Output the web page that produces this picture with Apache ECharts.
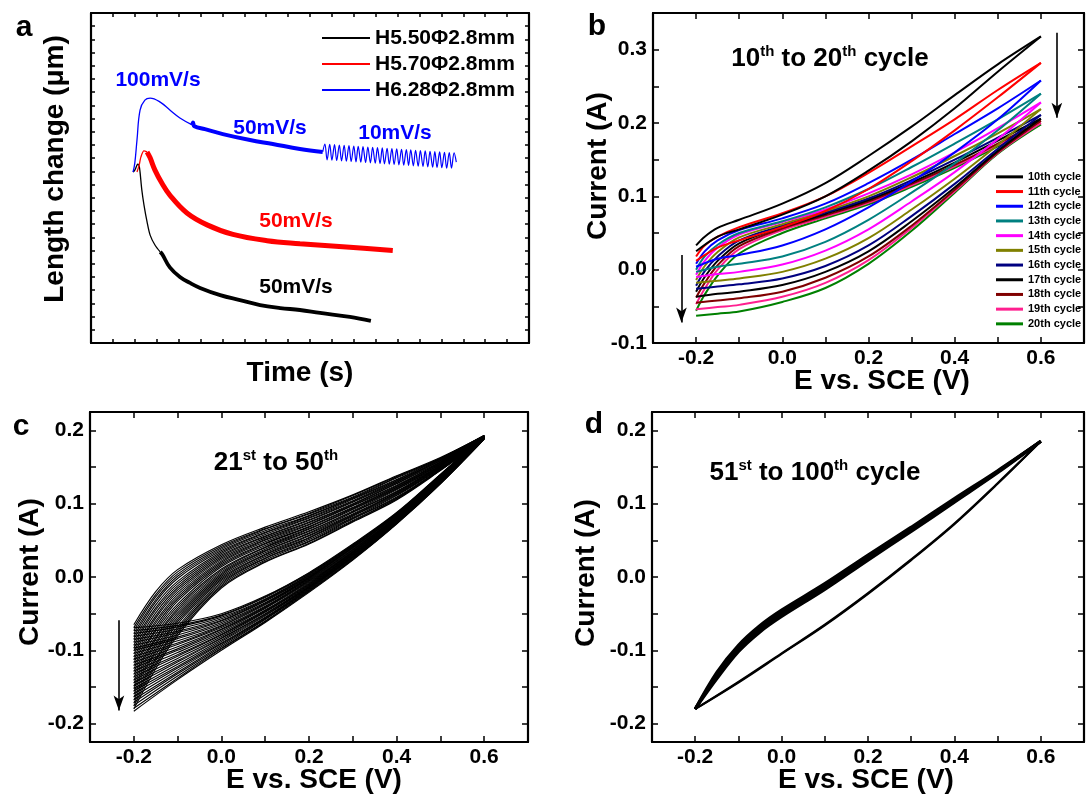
<!DOCTYPE html>
<html><head><meta charset="utf-8">
<script src="https://cdn.jsdelivr.net/npm/echarts@6/dist/echarts.min.js"></script>
<style>html,body{margin:0;padding:0;background:#fff}#c{width:1087px;height:798px}</style>
</head><body><div id="c"></div>
<script>
// ---------------- Panel a data (arbitrary units, axes unlabeled) ----------------
const aNames = ['H5.50\u03A62.8mm', 'H5.70\u03A62.8mm', 'H6.28\u03A62.8mm'];
const aBlackThin = [[9.6,51.8],[10.0,52.4],[10.5,53.9],[10.7,54.2],[11.0,53.6],[11.2,51.8],[11.6,46.4],[12.1,41.8],[12.8,36.7],[13.5,32.7],[14.6,29.7],[15.8,27.6]];
const aBlackThick = [[15.8,27.6],[16.3,26.8],[18.0,22.9],[20.3,20.0],[22.6,18.2],[24.9,16.7],[29.5,14.5],[34.0,13.0],[38.6,11.5],[43.2,10.6],[47.7,10.0],[52.3,9.1],[59.1,7.9],[63.9,6.7]];
const aRedThin = [[10.5,51.8],[11.0,53.9],[11.4,56.4],[12.1,58.2],[12.8,57.9]];
const aRedThick = [[12.8,57.9],[13.5,56.1],[14.6,52.4],[16.2,48.4],[18.0,44.8],[21.9,39.4],[26.5,35.8],[32.4,32.9],[40.2,31.0],[47.7,30.1],[59.1,29.0],[68.9,28.0]];
const aBlueThin = [[9.6,51.8],[10.0,54.5],[10.5,61.5],[11.2,70.6],[12.3,73.6],[13.5,74.2],[15.8,73.0],[18.0,70.6],[20.3,68.2],[23.1,66.1]];
const aBlueThick = [[23.1,66.1],[23.3,66.8],[23.6,65.7],[26.0,64.8],[30.1,63.3],[36.3,61.5],[41.5,60.3],[47.7,58.8],[52.9,57.9]];
const aBlueOsc = [[52.9,57.9],[53.4,60.3],[53.9,55.5],[54.5,60.2],[55.0,55.4],[55.6,60.1],[56.1,55.3],[56.7,60.0],[57.2,55.2],[57.8,59.9],[58.3,55.1],[58.9,59.8],[59.4,55.0],[60.0,59.7],[60.5,54.9],[61.0,59.6],[61.6,54.8],[62.1,59.5],[62.7,54.7],[63.2,59.4],[63.8,54.6],[64.3,59.3],[64.9,54.5],[65.4,59.2],[66.0,54.4],[66.5,59.1],[67.0,54.3],[67.6,59.0],[68.1,54.2],[68.7,58.9],[69.2,54.1],[69.8,58.8],[70.3,54.0],[70.9,58.7],[71.4,53.9],[72.0,58.6],[72.5,53.8],[73.0,58.5],[73.6,53.7],[74.1,58.4],[74.7,53.6],[75.2,58.3],[75.8,53.5],[76.3,58.2],[76.9,53.4],[77.4,58.1],[78.0,53.3],[78.5,58.0],[79.0,53.2],[79.6,57.9],[80.1,53.1],[80.7,57.8],[81.2,53.0],[81.8,57.7],[82.3,53.0],[82.9,57.6],[83.4,54.8]];

// ---------------- Panel b data (E in V, current in A) ----------------
const bNames = ['10th cycle','11th cycle','12th cycle','13th cycle','14th cycle','15th cycle','16th cycle','17th cycle','18th cycle','19th cycle','20th cycle'];
const bColors = ['#000000','#ff0000','#0000ff','#008080','#ff00ff','#808000','#000080','#000000','#800000','#ff1f8f','#008000'];
const bUpX = [-0.2,-0.18,-0.15,-0.1,0,0.1,0.2,0.3,0.4,0.5,0.6];
const bUpper = [
 [0.033,0.045,0.057,0.068,0.090,0.118,0.155,0.195,0.238,0.280,0.318],
 [0.018,0.033,0.045,0.058,0.077,0.100,0.132,0.168,0.205,0.245,0.282],
 [0.008,0.025,0.040,0.054,0.070,0.090,0.118,0.150,0.185,0.220,0.258],
 [0.000,0.018,0.034,0.050,0.066,0.085,0.110,0.140,0.172,0.205,0.240],
 [-0.007,0.012,0.030,0.048,0.065,0.082,0.104,0.130,0.160,0.193,0.228],
 [-0.014,0.005,0.024,0.044,0.062,0.080,0.100,0.126,0.155,0.186,0.219],
 [-0.022,-0.002,0.018,0.040,0.060,0.078,0.097,0.122,0.150,0.180,0.211],
 [-0.030,-0.010,0.012,0.036,0.058,0.076,0.095,0.119,0.146,0.176,0.206],
 [-0.038,-0.018,0.006,0.032,0.056,0.074,0.093,0.117,0.143,0.172,0.203],
 [-0.047,-0.026,0.000,0.028,0.054,0.072,0.091,0.115,0.141,0.170,0.200],
 [-0.056,-0.034,-0.008,0.022,0.050,0.070,0.089,0.113,0.139,0.168,0.198]
];
const bDnX = [0.6,0.5,0.4,0.3,0.2,0.1,0,-0.1,-0.15,-0.2];
const bLower = [
 [0.318,0.270,0.220,0.175,0.135,0.100,0.075,0.055,0.045,0.025],
 [0.282,0.235,0.190,0.148,0.110,0.080,0.058,0.040,0.030,0.012],
 [0.258,0.205,0.160,0.120,0.085,0.055,0.033,0.020,0.015,0.004],
 [0.240,0.190,0.145,0.105,0.068,0.038,0.018,0.008,0.004,-0.003],
 [0.228,0.178,0.133,0.093,0.055,0.026,0.007,-0.003,-0.006,-0.010],
 [0.219,0.170,0.124,0.082,0.043,0.015,-0.003,-0.012,-0.015,-0.018],
 [0.211,0.165,0.117,0.073,0.033,0.005,-0.012,-0.020,-0.023,-0.026],
 [0.206,0.162,0.112,0.066,0.025,-0.003,-0.021,-0.030,-0.033,-0.037],
 [0.203,0.160,0.109,0.060,0.018,-0.011,-0.030,-0.039,-0.042,-0.045],
 [0.200,0.159,0.107,0.057,0.013,-0.018,-0.037,-0.048,-0.051,-0.054],
 [0.198,0.158,0.105,0.053,0.008,-0.025,-0.044,-0.057,-0.060,-0.063]
];
const bArrowLeft = [[-0.234,0.020],[-0.234,-0.072]];
const bArrowRight = [[0.637,0.323],[0.637,0.207]];

// ---------------- Panel c data: cycles 21..50, one value per cycle at each E ----------------
const cUpX = [-0.2,-0.15,-0.1,0,0.1,0.2,0.3,0.4,0.5,0.6];
const cUpAtM020 = [-0.065,-0.069,-0.073,-0.077,-0.081,-0.085,-0.089,-0.093,-0.097,-0.101,-0.105,-0.109,-0.113,-0.117,-0.121,-0.125,-0.129,-0.133,-0.137,-0.141,-0.145,-0.149,-0.152,-0.156,-0.160,-0.164,-0.168,-0.172,-0.176,-0.180];
const cUpAtM015 = [-0.020,-0.024,-0.027,-0.031,-0.034,-0.038,-0.042,-0.045,-0.049,-0.053,-0.056,-0.060,-0.063,-0.067,-0.071,-0.074,-0.078,-0.082,-0.085,-0.089,-0.092,-0.096,-0.100,-0.103,-0.107,-0.111,-0.114,-0.118,-0.121,-0.125];
const cUpAtM010 = [0.010,0.007,0.004,0.001,-0.002,-0.006,-0.009,-0.012,-0.015,-0.018,-0.021,-0.024,-0.027,-0.030,-0.033,-0.037,-0.040,-0.043,-0.046,-0.049,-0.052,-0.055,-0.058,-0.061,-0.064,-0.068,-0.071,-0.074,-0.077,-0.080];
const cUpAt000 = [0.044,0.042,0.040,0.038,0.036,0.034,0.032,0.030,0.028,0.026,0.024,0.022,0.020,0.018,0.016,0.014,0.011,0.009,0.007,0.005,0.003,0.001,-0.001,-0.003,-0.005,-0.007,-0.009,-0.011,-0.013,-0.015];
const cUpAt010 = [0.068,0.066,0.065,0.063,0.061,0.060,0.058,0.056,0.055,0.053,0.051,0.050,0.048,0.046,0.045,0.043,0.041,0.040,0.038,0.036,0.035,0.033,0.031,0.030,0.028,0.026,0.025,0.023,0.021,0.020];
const cUpAt020 = [0.089,0.087,0.086,0.084,0.083,0.081,0.080,0.078,0.077,0.075,0.074,0.072,0.071,0.069,0.068,0.066,0.065,0.063,0.062,0.060,0.059,0.057,0.056,0.054,0.053,0.051,0.049,0.048,0.046,0.045];
const cUpAt030 = [0.112,0.111,0.109,0.108,0.107,0.106,0.104,0.103,0.102,0.100,0.099,0.098,0.097,0.095,0.094,0.093,0.092,0.090,0.089,0.088,0.086,0.085,0.084,0.083,0.081,0.080,0.079,0.077,0.076,0.075];
const cUpAt040 = [0.138,0.137,0.136,0.135,0.133,0.132,0.131,0.130,0.129,0.128,0.127,0.125,0.124,0.123,0.122,0.121,0.120,0.119,0.117,0.116,0.115,0.114,0.113,0.112,0.111,0.109,0.108,0.107,0.106,0.105];
const cUpAt050 = [0.163,0.162,0.162,0.161,0.161,0.160,0.159,0.159,0.158,0.157,0.157,0.156,0.156,0.155,0.154,0.154,0.153,0.152,0.152,0.151,0.151,0.150,0.149,0.149,0.148,0.147,0.147,0.146,0.146,0.145];
const cUpAt060 = [0.193,0.193,0.193,0.193,0.192,0.192,0.192,0.192,0.192,0.191,0.191,0.191,0.191,0.191,0.191,0.190,0.190,0.190,0.190,0.190,0.190,0.189,0.189,0.189,0.189,0.189,0.189,0.188,0.188,0.188];
const cDnX = [0.6,0.5,0.4,0.3,0.2,0.1,0,-0.1,-0.2];
const cDnAt060 = cUpAt060;
const cDnAt050 = [0.140,0.140,0.139,0.139,0.138,0.138,0.137,0.137,0.136,0.136,0.135,0.135,0.135,0.134,0.134,0.133,0.133,0.132,0.132,0.131,0.131,0.130,0.130,0.130,0.129,0.129,0.128,0.128,0.127,0.127];
const cDnAt040 = [0.088,0.087,0.087,0.086,0.086,0.085,0.085,0.084,0.084,0.083,0.082,0.082,0.081,0.081,0.080,0.080,0.079,0.079,0.078,0.078,0.077,0.076,0.076,0.075,0.075,0.074,0.074,0.073,0.073,0.072];
const cDnAt030 = [0.045,0.044,0.043,0.043,0.042,0.041,0.040,0.040,0.039,0.038,0.037,0.037,0.036,0.035,0.034,0.034,0.033,0.032,0.031,0.031,0.030,0.029,0.028,0.027,0.027,0.026,0.025,0.024,0.024,0.023];
const cDnAt020 = [0.006,0.005,0.004,0.003,0.002,0.001,0.000,-0.001,-0.001,-0.002,-0.003,-0.004,-0.005,-0.006,-0.007,-0.008,-0.009,-0.010,-0.011,-0.012,-0.013,-0.014,-0.014,-0.015,-0.016,-0.017,-0.018,-0.019,-0.020,-0.021];
const cDnAt010 = [-0.026,-0.027,-0.028,-0.030,-0.031,-0.032,-0.033,-0.035,-0.036,-0.037,-0.038,-0.040,-0.041,-0.042,-0.043,-0.045,-0.046,-0.047,-0.048,-0.050,-0.051,-0.052,-0.053,-0.055,-0.056,-0.057,-0.058,-0.060,-0.061,-0.062];
const cDnAt000 = [-0.050,-0.052,-0.053,-0.055,-0.057,-0.059,-0.060,-0.062,-0.064,-0.066,-0.067,-0.069,-0.071,-0.072,-0.074,-0.076,-0.078,-0.079,-0.081,-0.083,-0.084,-0.086,-0.088,-0.090,-0.091,-0.093,-0.095,-0.097,-0.098,-0.100];
const cDnAtM010 = [-0.063,-0.066,-0.068,-0.071,-0.074,-0.076,-0.079,-0.082,-0.084,-0.087,-0.090,-0.092,-0.095,-0.098,-0.100,-0.103,-0.106,-0.108,-0.111,-0.114,-0.116,-0.119,-0.122,-0.124,-0.127,-0.130,-0.132,-0.135,-0.138,-0.140];
const cDnAtM020 = [-0.069,-0.073,-0.077,-0.081,-0.085,-0.089,-0.093,-0.097,-0.100,-0.104,-0.108,-0.112,-0.116,-0.120,-0.124,-0.128,-0.132,-0.136,-0.140,-0.144,-0.148,-0.152,-0.155,-0.159,-0.163,-0.167,-0.171,-0.175,-0.179,-0.183];
const cArrow = [[-0.234,-0.059],[-0.234,-0.182]];

// ---------------- Panel d data: cycles 51..100 (nearly overlapping) ----------------
const dUpX = [-0.2,-0.15,-0.1,-0.05,0,0.1,0.2,0.3,0.4,0.5,0.6];
const dUpper = [
 [-0.180,-0.130,-0.093,-0.066,-0.045,-0.009,0.030,0.068,0.107,0.145,0.185],
 [-0.180,-0.133,-0.096,-0.069,-0.048,-0.011,0.028,0.066,0.105,0.144,0.185],
 [-0.180,-0.136,-0.099,-0.072,-0.051,-0.014,0.025,0.064,0.103,0.143,0.185],
 [-0.180,-0.139,-0.102,-0.075,-0.054,-0.017,0.023,0.062,0.102,0.142,0.185]
];
const dDnX = [0.6,0.5,0.4,0.3,0.2,0.1,0,-0.1,-0.2];
const dLower = [
 [0.185,0.128,0.073,0.024,-0.022,-0.065,-0.104,-0.143,-0.180],
 [0.185,0.127,0.072,0.023,-0.023,-0.066,-0.105,-0.144,-0.180]
];

// ---------------- chart ----------------
const FONT = "'Liberation Sans', Arial, Helvetica, sans-serif";
const chart = echarts.init(document.getElementById('c'), null, {renderer: 'canvas'});

const grids = [
  {left: 91, top: 13, width: 438, height: 330},
  {left: 653, top: 13, width: 439, height: 330},
  {left: 90, top: 412, width: 438, height: 330},
  {left: 652, top: 412, width: 438, height: 330}
];

function baseAxis(gi, pos, extra, showLabel, tickLen) {
  return Object.assign({
    type: 'value', gridIndex: gi, position: pos,
    axisLine: {show: true, onZero: false, lineStyle: {color: '#000', width: 2.2}},
    axisTick: {show: true, inside: true, length: tickLen, lineStyle: {color: '#000', width: 1.5}},
    splitLine: {show: false},
    axisLabel: {show: showLabel, color: '#000', fontSize: 21, fontWeight: 'bold', fontFamily: FONT, margin: 5}
  }, extra);
}
const fmtX = v => { const k = Math.round(v * 10); return (k % 2 === 0 && k >= -2 && k <= 6) ? (k / 10).toFixed(1) : ''; };
const fmtY = v => { const k = Math.round(v * 1000); return (k % 100 === 0) ? (k / 1000).toFixed(1) : ''; };

const xAxes = [], yAxes = [];
// a
xAxes.push(baseAxis(0, 'bottom', {min: 0, max: 100, interval: 5}, false, 4));
xAxes.push(baseAxis(0, 'top', {min: 0, max: 100, interval: 5}, false, 4));
yAxes.push(baseAxis(0, 'left', {min: 0, max: 100, interval: 4}, false, 4));
yAxes.push(baseAxis(0, 'right', {min: 0, max: 100, interval: 4}, false, 4));
// b, c, d
for (let g = 1; g <= 3; g++) {
  const xb = baseAxis(g, 'bottom', {min: -0.3, max: 0.7, interval: 0.1}, true, 6);
  xb.axisLabel.formatter = fmtX;
  xAxes.push(xb);
  xAxes.push(baseAxis(g, 'top', {min: -0.3, max: 0.7, interval: 0.1}, false, 6));
  const yr = g === 1 ? {min: -0.1, max: 0.35, interval: 0.05} : {min: -0.225, max: 0.225, splitNumber: 9};
  const yl = baseAxis(g, 'left', Object.assign({}, yr), true, 6);
  yl.axisLabel.formatter = fmtY;
  yl.axisLabel.margin = 6;
  yAxes.push(yl);
  yAxes.push(baseAxis(g, 'right', Object.assign({}, yr), false, 6));
}

const series = [];
function addLine(g, name, data, color, width, smooth, z) {
  const s = {
    type: 'line', name: name, xAxisIndex: 2 * g, yAxisIndex: 2 * g, data: data,
    symbol: 'none', showSymbol: false, smooth: smooth, silent: true, animation: false,
    lineStyle: {color: color, width: width}, itemStyle: {color: color}, z: z || 2
  };
  series.push(s);
  return s;
}
// panel a
addLine(0, aNames[0], aBlackThin, '#000', 1.3, 0.3);
addLine(0, aNames[0], aBlackThick, '#000', 3.8, 0.4);
addLine(0, aNames[1], aRedThin, '#ff0000', 1.3, 0.3);
addLine(0, aNames[1], aRedThick, '#ff0000', 5, 0.4);
addLine(0, aNames[2], aBlueThin, '#0000ff', 1.3, 0.4);
addLine(0, aNames[2], aBlueThick, '#0000ff', 4, 0.4);
addLine(0, aNames[2], aBlueOsc, '#0000ff', 1.2, 0.35);
// panel b
for (let i = 0; i < bNames.length; i++) {
  addLine(1, bNames[i], bUpX.map((x, j) => [x, bUpper[i][j]]), bColors[i], 2, 0.35, 2 + (11 - i) * 0.01);
  addLine(1, bNames[i], bDnX.map((x, j) => [x, bLower[i][j]]), bColors[i], 2, 0.35, 2 + (11 - i) * 0.01);
}
// panel c
const cUpCols = [cUpAtM020, cUpAtM015, cUpAtM010, cUpAt000, cUpAt010, cUpAt020, cUpAt030, cUpAt040, cUpAt050, cUpAt060];
const cDnCols = [cDnAt060, cDnAt050, cDnAt040, cDnAt030, cDnAt020, cDnAt010, cDnAt000, cDnAtM010, cDnAtM020];
for (let k = 0; k < cUpAtM020.length; k++) {
  addLine(2, 'cycle ' + (21 + k), cUpX.map((x, j) => [x, cUpCols[j][k]]), '#000', 1.1, 0.35);
  addLine(2, 'cycle ' + (21 + k), cDnX.map((x, j) => [x, cDnCols[j][k]]), '#000', 1.1, 0.35);
}
// panel d
dUpper.forEach((arr, i) => addLine(3, 'cycle ' + (51 + i), dUpX.map((x, j) => [x, arr[j]]), '#000', 3, 0.35));
dLower.forEach((arr, i) => addLine(3, 'cycle ' + (51 + i), dDnX.map((x, j) => [x, arr[j]]), '#000', 2, 0.35));

// arrows
function arrowSeries(g, pts) {
  series.push({
    type: 'line', xAxisIndex: 2 * g, yAxisIndex: 2 * g, data: [], silent: true, animation: false,
    markLine: {
      silent: true, animation: false, symbol: ['none', 'arrow'], symbolSize: [8, 15],
      lineStyle: {color: '#000', width: 1.6, type: 'solid'}, label: {show: false},
      data: [[{coord: pts[0]}, {coord: pts[1]}]]
    }
  });
}
arrowSeries(1, bArrowLeft);
arrowSeries(1, bArrowRight);
arrowSeries(2, cArrow);

function txt(x, y, text, size, color, rot) {
  return {type: 'text', x: x, y: y, rotation: rot || 0, silent: true, z: 100,
    style: {text: text, fill: color || '#000', font: 'bold ' + size + 'px ' + FONT, align: 'center', verticalAlign: 'middle'}};
}
function supTxt(x, y, text) {
  return {type: 'text', x: x, y: y, silent: true, z: 100,
    style: {text: text, align: 'center', verticalAlign: 'middle', fill: '#000',
      rich: {
        n: {fontSize: 26, fontWeight: 'bold', fontFamily: FONT, lineHeight: 30, fill: '#000'},
        s: {fontSize: 15, fontWeight: 'bold', fontFamily: FONT, lineHeight: 30, verticalAlign: 'top', fill: '#000'}
      }}};
}
const R = Math.PI / 2;
const graphics = [
  txt(24, 27.5, 'a', 30), txt(597, 26.5, 'b', 30), txt(21, 426.5, 'c', 30), txt(594, 424.5, 'd', 30),
  txt(55, 169, 'Length change (\u03BCm)', 28, '#000', R),
  txt(300, 373, 'Time (s)', 28),
  txt(598, 166, 'Current (A)', 28, '#000', R),
  txt(882, 381, 'E vs. SCE (V)', 28),
  txt(30, 572, 'Current (A)', 28, '#000', R),
  txt(314, 780, 'E vs. SCE (V)', 28),
  txt(586, 573, 'Current (A)', 28, '#000', R),
  txt(866, 780, 'E vs. SCE (V)', 28),
  txt(158, 80, '100mV/s', 21, '#0000ff'),
  txt(270, 128, '50mV/s', 21, '#0000ff'),
  txt(395, 133, '10mV/s', 21, '#0000ff'),
  txt(296, 221, '50mV/s', 21, '#ff0000'),
  txt(296, 287, '50mV/s', 21, '#000'),
  supTxt(830, 59, '{n|10}{s|th}{n| to 20}{s|th}{n| cycle}'),
  supTxt(276, 463, '{n|21}{s|st}{n| to 50}{s|th}'),
  supTxt(815, 473, '{n|51}{s|st}{n| to 100}{s|th}{n| cycle}')
];

chart.setOption({
  animation: false,
  backgroundColor: '#fff',
  grid: grids,
  xAxis: xAxes,
  yAxis: yAxes,
  legend: [
    {data: aNames, orient: 'vertical', left: 322, top: 25, padding: 0, itemWidth: 48, itemHeight: 2, itemGap: 0, icon: 'rect',
     selectedMode: false, textStyle: {color: '#000', fontSize: 21, fontWeight: 'bold', fontFamily: FONT, lineHeight: 26}},
    {data: bNames, orient: 'vertical', left: 996, top: 169.5, padding: 0, itemWidth: 27, itemHeight: 3, itemGap: 0, icon: 'rect',
     selectedMode: false, textStyle: {color: '#000', fontSize: 11, fontWeight: 'bold', fontFamily: FONT, lineHeight: 14.7, width: 60, overflow: 'none'}}
  ],
  series: series,
  graphic: graphics
});
</script></body></html>
